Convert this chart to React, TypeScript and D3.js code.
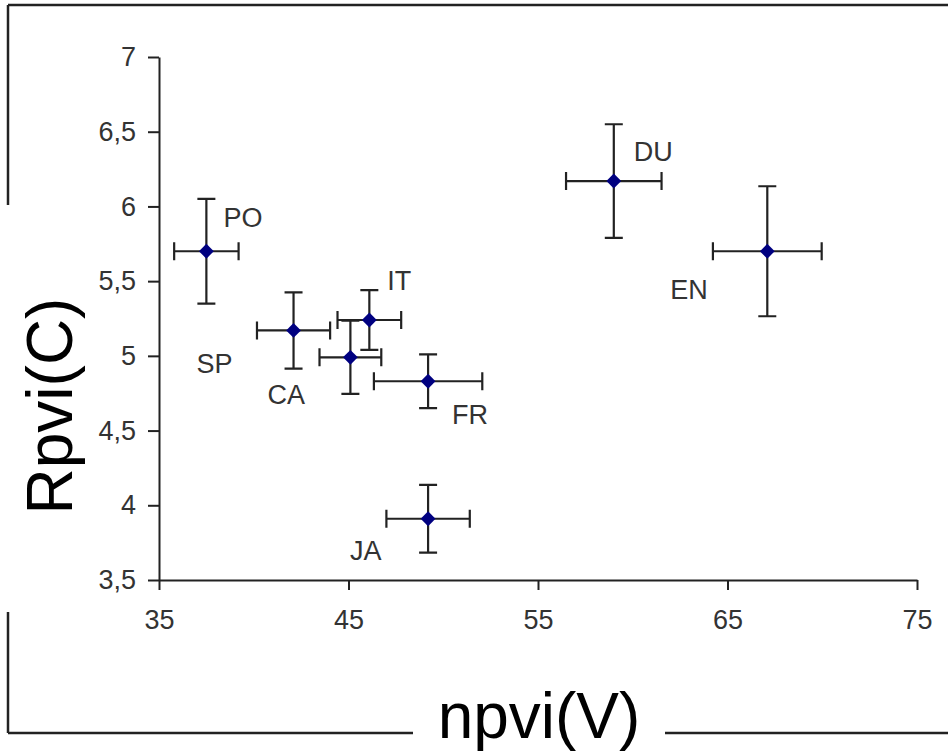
import React, { useRef, useEffect } from "react";
import * as d3 from "d3";

// languages and their means / error half-widths
const languages = ["PO", "SP", "CA", "IT", "FR", "JA", "DU", "EN"];
const npviV = [37.5, 42.1, 45.1, 46.1, 49.2, 49.2, 59.0, 67.1];
const npviErr = [1.7, 1.93, 1.63, 1.68, 2.86, 2.2, 2.52, 2.87];
const rpviC = [5.7, 5.17, 4.99, 5.24, 4.83, 3.91, 6.17, 5.7];
const rpviErr = [0.35, 0.255, 0.245, 0.2, 0.18, 0.227, 0.38, 0.435];

const xTicks = [35, 45, 55, 65, 75];
const yTicks = [3.5, 4, 4.5, 5, 5.5, 6, 6.5, 7];

// where each language label sits relative to its point (px)
const labelOffsets: [number, number][] = [
  [17, -24],
  [-97, 43],
  [-83, 47],
  [18, -30],
  [24, 43],
  [-78, 41],
  [20, -20],
  [-97, 48],
];

const W = 948;
const H = 751;

function App() {
  const svgRef = useRef<SVGSVGElement>(null);

  useEffect(() => {
    const svg = d3.select(svgRef.current);
    svg.selectAll("*").remove();

    const x = d3.scaleLinear().domain([35, 75]).range([159, 917]);
    const y = d3.scaleLinear().domain([3.5, 7]).range([580, 57]);

    const locale = d3.formatLocale({
      decimal: ",",
      thousands: ".",
      grouping: [3],
      currency: ["", ""],
    });
    const fmt = locale.format("~g");

    // outer frame broken by the titles
    const frame = [
      [8, 5, W, 5],
      [8, 5, 8, 205],
      [8, 612, 8, 733],
      [8, 733, 413, 733],
      [665, 733, W, 733],
    ];
    svg
      .selectAll(".frame")
      .data(frame)
      .join("line")
      .attr("x1", (d) => d[0])
      .attr("y1", (d) => d[1])
      .attr("x2", (d) => d[2])
      .attr("y2", (d) => d[3])
      .attr("stroke", "#222")
      .attr("stroke-width", 2.5);

    const yAxis = d3
      .axisLeft(y)
      .tickValues(yTicks)
      .tickSize(11)
      .tickSizeOuter(0)
      .tickPadding(12)
      .tickFormat((d) => fmt(d as number));
    const gy = svg.append("g").attr("transform", "translate(159,0)").call(yAxis);

    const xAxis = d3
      .axisBottom(x)
      .tickValues(xTicks)
      .tickSize(10)
      .tickSizeOuter(0)
      .tickPadding(20)
      .tickFormat((d) => fmt(d as number));
    const gx = svg.append("g").attr("transform", "translate(0,580)").call(xAxis);

    [gx, gy].forEach((g) => {
      g.select(".domain").attr("stroke", "#222").attr("stroke-width", 2);
      g.selectAll(".tick line").attr("stroke", "#222").attr("stroke-width", 2);
      g.selectAll(".tick text")
        .attr("fill", "#333")
        .style("font-family", "Liberation Sans, Arial, sans-serif")
        .style("font-size", "27px");
    });

    const pts = languages.map((name, i) => ({
      name,
      cx: x(npviV[i]),
      cy: y(rpviC[i]),
      x0: x(npviV[i] - npviErr[i]),
      x1: x(npviV[i] + npviErr[i]),
      y0: y(rpviC[i] - rpviErr[i]),
      y1: y(rpviC[i] + rpviErr[i]),
      off: labelOffsets[i],
    }));

    const cap = 9;
    const bars = svg
      .append("g")
      .attr("stroke", "#222")
      .attr("stroke-width", 2.2)
      .attr("fill", "none");

    pts.forEach((p) => {
      const path = d3.path();
      path.moveTo(p.x0, p.cy);
      path.lineTo(p.x1, p.cy);
      path.moveTo(p.x0, p.cy - cap);
      path.lineTo(p.x0, p.cy + cap);
      path.moveTo(p.x1, p.cy - cap);
      path.lineTo(p.x1, p.cy + cap);
      path.moveTo(p.cx, p.y0);
      path.lineTo(p.cx, p.y1);
      path.moveTo(p.cx - cap, p.y0);
      path.lineTo(p.cx + cap, p.y0);
      path.moveTo(p.cx - cap, p.y1);
      path.lineTo(p.cx + cap, p.y1);
      bars.append("path").attr("d", path.toString());
    });

    const diamond = d3.symbol().type(d3.symbolSquare).size(110);
    svg
      .append("g")
      .selectAll("path")
      .data(pts)
      .join("path")
      .attr("d", diamond)
      .attr("transform", (p) => `translate(${p.cx},${p.cy}) rotate(45)`)
      .attr("fill", "#000080");

    svg
      .append("g")
      .selectAll("text")
      .data(pts)
      .join("text")
      .attr("x", (p) => p.cx + p.off[0])
      .attr("y", (p) => p.cy + p.off[1])
      .attr("fill", "#333")
      .style("font-family", "Liberation Sans, Arial, sans-serif")
      .style("font-size", "27px")
      .text((p) => p.name);

    svg
      .append("text")
      .attr("x", 539)
      .attr("y", 738)
      .attr("text-anchor", "middle")
      .attr("fill", "#000")
      .style("font-family", "Liberation Sans, Arial, sans-serif")
      .style("font-size", "64px")
      .text("npvi(V)");

    svg
      .append("text")
      .attr("transform", "translate(72,406) rotate(-90)")
      .attr("text-anchor", "middle")
      .attr("fill", "#000")
      .style("font-family", "Liberation Sans, Arial, sans-serif")
      .style("font-size", "64px")
      .text("Rpvi(C)");
  }, []);

  return (
    <svg
      ref={svgRef}
      width={W}
      height={H}
      style={{ position: "absolute", left: 0, top: 0, background: "#fff" }}
    />
  );
}

export default App;
